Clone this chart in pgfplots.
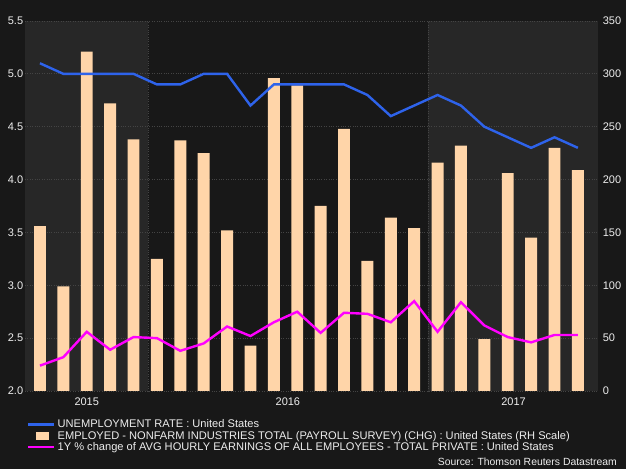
\documentclass[border=0pt]{standalone}
\usepackage{pgfplots}
\pgfplotsset{compat=1.18}
\usepackage{fontspec}
\setmainfont{Liberation Sans}
\definecolor{bg}{HTML}{181818}
\definecolor{band}{HTML}{272727}
\definecolor{gridc}{HTML}{444444}
\definecolor{axisc}{HTML}{707070}
\definecolor{txt}{HTML}{EEEEEE}
\definecolor{barc}{HTML}{FFD5A9}
\definecolor{urc}{RGB}{46,99,235}
\definecolor{ahec}{HTML}{FF00FF}
\pgfplotstableread{
i ur pay ahe
0 5.1 156 2.24
1 5.0 99 2.32
2 5.0 321 2.56
3 5.0 272 2.39
4 5.0 238 2.51
5 4.9 125 2.50
6 4.9 237 2.38
7 5.0 225 2.45
8 5.0 152 2.61
9 4.7 43 2.52
10 4.9 296 2.65
11 4.9 289 2.75
12 4.9 175 2.55
13 4.9 248 2.74
14 4.8 123 2.73
15 4.6 164 2.65
16 4.7 154 2.85
17 4.8 216 2.56
18 4.7 232 2.84
19 4.5 49 2.62
20 4.4 206 2.51
21 4.3 145 2.46
22 4.4 230 2.53
23 4.3 209 2.53
}\data
\begin{document}
\fontsize{11bp}{13bp}\selectfont
\begin{tikzpicture}[x=1bp,y=1bp]
\fill[bg] (0,0) rectangle (626,469);
\useasboundingbox (0,0) rectangle (626,469);
\pgfplotsset{base/.style={at={(25bp,78bp)}, anchor=south west, width=573bp, height=370bp, scale only axis, xmin=-0.64, xmax=23.86, axis line style={draw=none}, tick style={draw=none}, major tick length=0pt, tick label style={text=txt, font=\fontsize{11bp}{13bp}\selectfont}, /pgf/number format/assume math mode=true}}
% bands
\begin{axis}[base, ymin=0, ymax=1, hide axis]
\fill[band] (axis cs:-0.64,0) rectangle (axis cs:4.62,1);
\fill[band] (axis cs:16.59,0) rectangle (axis cs:23.86,1);
\end{axis}
% bars, right axis
\begin{axis}[base, ymin=0, ymax=350, ytick={0,50,...,350}, yticklabel pos=right,
  yticklabel style={anchor=west, xshift=1bp},
  ymajorgrids, xmajorgrids, grid style={gridc, dotted, line width=0.8bp},
  xtick={4.62,16.59}, xticklabels={,},
  extra x ticks={2.0,10.6,20.25}, extra x tick labels={2015,2016,2017},
  extra x tick style={grid=none, xticklabel style={yshift=-3bp}}]
\addplot[ybar, bar width=0.51, fill=barc, draw=none] table[x=i, y=pay] {\data};
\draw[axisc, line width=0.8bp] (axis cs:-0.64,0) -- (axis cs:23.86,0);
\end{axis}
% lines, left axis
\begin{axis}[base, ymin=2, ymax=5.5, ytick={2,2.5,...,5.5}, yticklabel pos=left,
  yticklabel style={anchor=east, xshift=2bp, /pgf/number format/.cd, fixed, fixed zerofill, precision=1},
  xtick=\empty,
  legend image code/.code={\draw[#1] (0bp,0bp) -- (26bp,0bp);},
  legend style={at={(0.0035,-0.072)}, anchor=north west, draw=none, fill=none, inner sep=0pt,
    text=txt, font=\fontsize{11.1bp}{13bp}\selectfont, row sep=-2.5bp,
    nodes={inner sep=2bp}},
  legend cell align=left]
\addplot[urc, line width=2.4bp] table[x=i, y=ur] {\data};
\addlegendentry{UNEMPLOYMENT RATE : United States}
\addlegendimage{legend image code/.code={\fill[barc] (8bp,-3.5bp) rectangle (20bp,3.5bp);}}
\addlegendentry{EMPLOYED - NONFARM INDUSTRIES TOTAL (PAYROLL SURVEY) (CHG) : United States (RH Scale)}
\addplot[ahec, line width=2.4bp] table[x=i, y=ahe] {\data};
\addlegendentry{1Y \% change of AVG HOURLY EARNINGS OF ALL EMPLOYEES - TOTAL PRIVATE : United States}
\end{axis}
\node[anchor=base east, inner sep=0pt, text=txt, font=\fontsize{10.4bp}{12bp}\selectfont] at (617,3) {Source: Thomson Reuters Datastream};
\end{tikzpicture}
\end{document}
